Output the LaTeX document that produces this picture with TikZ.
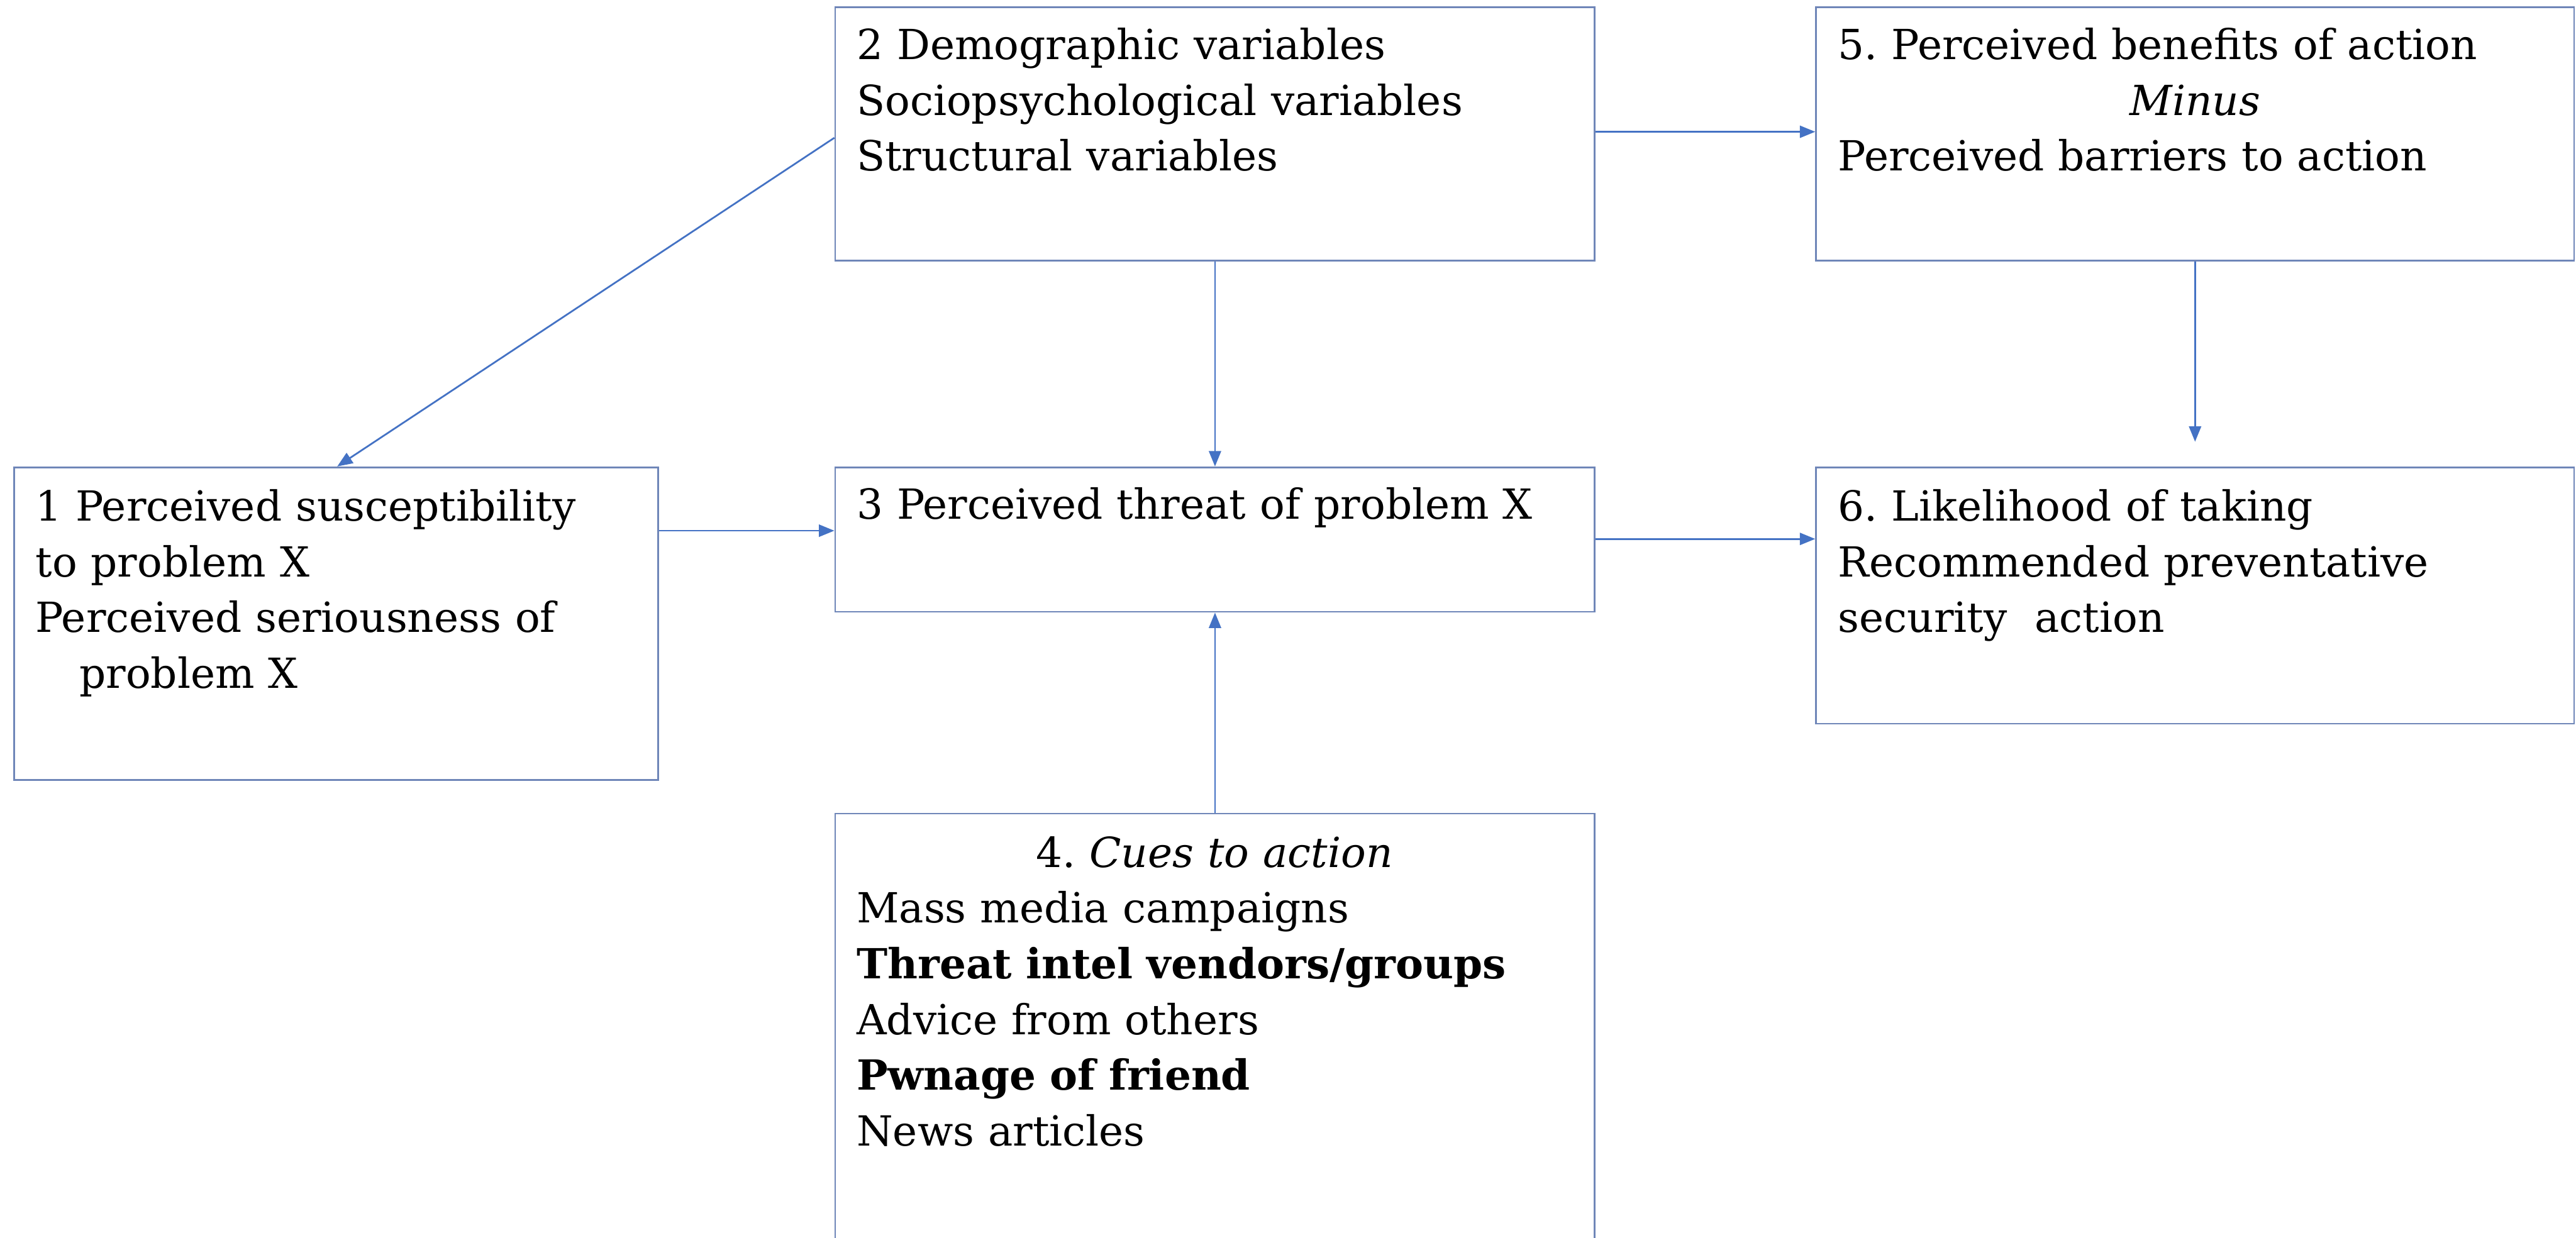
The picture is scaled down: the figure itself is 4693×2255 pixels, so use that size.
\documentclass[tikz,border=0pt]{standalone}
\usepackage{fontspec}
\setmainfont{DejaVu Serif}
\usetikzlibrary{arrows.meta}
\definecolor{boxline}{HTML}{6F86B8}
\definecolor{arrowline}{HTML}{4472C4}
\frenchspacing
\begin{document}
\begin{tikzpicture}[x=0.01cm,y=-0.01cm,
  box/.style={draw=boxline, line width=0.9pt, anchor=north west, inner sep=0pt},
  txt/.style={anchor=base west, inner sep=0pt, align=left, font=\fontsize{21.5pt}{28.9pt}\selectfont},
  conn/.style={draw=arrowline, line width=0.9pt, -{Triangle[length=0.28cm,width=0.22cm]}}]
\fill[white] (0,0) rectangle (4693,2255);
\useasboundingbox (0,0) rectangle (4693,2255);
% boxes
\node[box, minimum width=13.83cm, minimum height=4.61cm] (b2) at (1520,12) {};
\node[box, minimum width=13.80cm, minimum height=4.61cm] (b5) at (3307,12) {};
\node[box, minimum width=11.73cm, minimum height=5.69cm] (b1) at (24,850) {};
\node[box, minimum width=13.83cm, minimum height=2.63cm] (b3) at (1520,850) {};
\node[box, minimum width=13.80cm, minimum height=4.67cm] (b6) at (3307,850) {};
\node[box, minimum width=13.83cm, minimum height=8.20cm] (b4) at (1520,1481) {};
% texts
\node[txt, text width=13.03cm] (t2) at ([shift={(0.4cm,-0.96cm)}]b2.north west)
  {2 Demographic variables\\ Sociopsychological variables\\ Structural variables};
\node[txt, text width=13.0cm] (t5) at ([shift={(0.41cm,-0.96cm)}]b5.north west)
  {5. Perceived benefits of action\\ \makebox[\linewidth]{\textit{Minus}}\\ Perceived barriers to action};
\node[txt, text width=12cm] (t1) at ([shift={(0.4cm,-0.99cm)}]b1.north west)
  {1 Perceived susceptibility\\ to problem X\\ Perceived seriousness of\\ \hspace*{0.8cm}problem X};
\node[txt, text width=13.03cm] (t3) at ([shift={(0.4cm,-0.96cm)}]b3.north west)
  {3 Perceived threat of problem X};
\node[txt, text width=13.0cm] (t6) at ([shift={(0.41cm,-0.99cm)}]b6.north west)
  {6. Likelihood of taking\\ Recommended preventative\\ security\ \ action};
\node[txt, text width=13.03cm] (t4) at ([shift={(0.4cm,-0.99cm)}]b4.north west)
  {\makebox[\linewidth]{4. \textit{Cues to action}}\\ Mass media campaigns\\ \textbf{Threat intel vendors/groups}\\ Advice from others\\ \textbf{Pwnage of friend}\\ News articles};
% connectors
\draw[conn] ([yshift=-2.39cm]b2.north west) -- ([xshift=5.9cm]b1.north west);
\draw[conn] (b2.south) -- (b3.north);
\draw[conn] ([yshift=-2.28cm]b2.north east) -- ([yshift=-2.28cm]b5.north west);
\coordinate (e56) at ([yshift=0.45cm]b5.south |- b6.north);
\draw[conn] (b5.south) -- (e56);
\draw[conn] ([yshift=-1.17cm]b1.north east) -- ([yshift=-1.17cm]b3.north west);
\draw[conn] ([yshift=-1.32cm]b3.north east) -- ([yshift=-1.32cm]b6.north west);
\draw[conn] (b4.north) -- (b3.south);
\end{tikzpicture}
\end{document}
